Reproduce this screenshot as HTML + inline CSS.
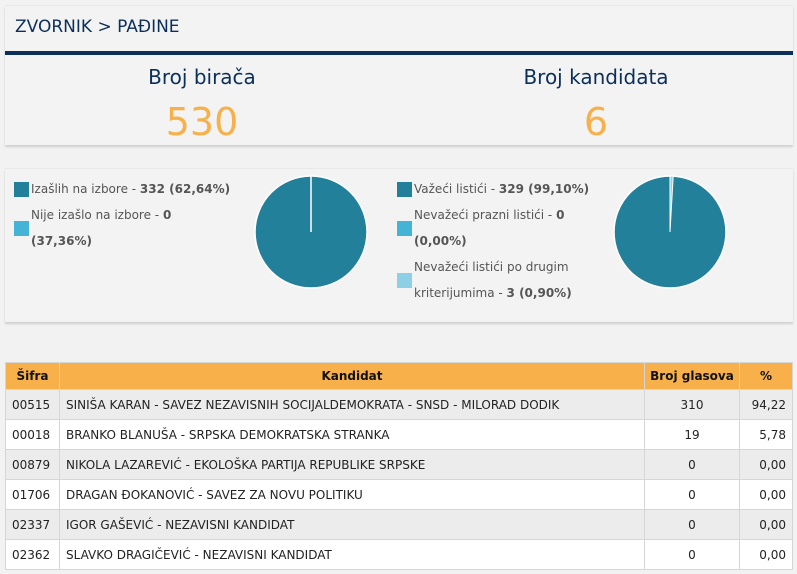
<!DOCTYPE html>
<html><head><meta charset="utf-8"><style>
*{margin:0;padding:0;box-sizing:border-box}
body{width:797px;height:574px;background:#f2f2f2;font-family:"DejaVu Sans","Liberation Sans",sans-serif;position:relative;overflow:hidden}
.abs{position:absolute}
.panel{position:absolute;background:#f3f3f3;box-shadow:0 2px 2px #cfcfcf;border-top:1px solid #e8e8e8}
.leg{position:absolute;font-size:12px;color:#555;line-height:26px}
.leg b{color:#555}
.sq{position:absolute;width:15px;height:15px}
table{position:absolute;left:5px;top:362px;width:788px;border-collapse:collapse;font-size:12px;color:#222;table-layout:fixed}
td,th{border:1px solid #d6d6d6;height:30px;padding:0 6px;white-space:nowrap}
th{background:#f7b04a;height:27px;font-weight:bold;color:#111;padding:0 2px}
tr:nth-child(even) td{background:#ececec}
tr:nth-child(odd) td{background:#fff}
</style></head><body>
<div class="panel" style="left:5px;top:5px;width:788px;height:140px">
<div class="abs" style="left:10px;top:11px;font-size:17px;color:#0b2f5b">ZVORNIK &gt; PAĐINE</div>
<div class="abs" style="left:0;top:45px;width:788px;height:4px;background:#0b2f5b"></div>
<div class="abs" style="left:0;top:59px;width:394px;text-align:center;font-size:20px;color:#0b2f5b">Broj birača</div>
<div class="abs" style="left:394px;top:59px;width:394px;text-align:center;font-size:20px;color:#0b2f5b">Broj kandidata</div>
<div class="abs" style="left:0;top:94px;width:394px;text-align:center;font-size:38px;color:#f7b04a">530</div>
<div class="abs" style="left:394px;top:94px;width:394px;text-align:center;font-size:38px;color:#f7b04a">6</div>
</div>
<div class="panel" style="left:5px;top:168px;width:788px;height:154px"></div>
<div class="sq" style="left:14px;top:182px;background:#23809b"></div>
<div class="sq" style="left:14px;top:221px;background:#45b3d6"></div>
<div class="leg" style="left:31px;top:176px;width:210px">Izašlih na izbore - <b>332 (62,64%)</b><br>Nije izašlo na izbore - <b>0</b><br><b>(37,36%)</b></div>
<div class="sq" style="left:397px;top:182px;background:#23809b"></div>
<div class="sq" style="left:397px;top:221px;background:#45b3d6"></div>
<div class="sq" style="left:397px;top:273px;background:#8dd0e6"></div>
<div class="leg" style="left:414px;top:176px;width:200px">Važeći listići - <b>329 (99,10%)</b><br>Nevažeći prazni listići - <b>0</b><br><b>(0,00%)</b><br>Nevažeći listići po drugim<br>kriterijumima - <b>3 (0,90%)</b></div>
<svg class="abs" style="left:0;top:0" width="797" height="574">
<circle cx="311" cy="232" r="56" fill="#23809b" stroke="#fff" stroke-width="1.5"/>
<line x1="311" y1="232" x2="311" y2="176" stroke="#fff" stroke-width="1.5"/>
<circle cx="670" cy="232" r="56" fill="#23809b" stroke="#fff" stroke-width="1.5"/>
<path d="M670 232 L670 176 A56 56 0 0 1 673.2 176.1 Z" fill="#8dd0e6" stroke="#fff" stroke-width="1"/>
</svg>
<table>
<colgroup><col style="width:54px"><col><col style="width:95px"><col style="width:53px"></colgroup>
<tr><th>Šifra</th><th>Kandidat</th><th>Broj glasova</th><th>%</th></tr>
<tr><td>00515</td><td>SINIŠA KARAN - SAVEZ NEZAVISNIH SOCIJALDEMOKRATA - SNSD - MILORAD DODIK</td><td style="text-align:center">310</td><td style="text-align:right">94,22</td></tr>
<tr><td>00018</td><td>BRANKO BLANUŠA - SRPSKA DEMOKRATSKA STRANKA</td><td style="text-align:center">19</td><td style="text-align:right">5,78</td></tr>
<tr><td>00879</td><td>NIKOLA LAZAREVIĆ - EKOLOŠKA PARTIJA REPUBLIKE SRPSKE</td><td style="text-align:center">0</td><td style="text-align:right">0,00</td></tr>
<tr><td>01706</td><td>DRAGAN ĐOKANOVIĆ - SAVEZ ZA NOVU POLITIKU</td><td style="text-align:center">0</td><td style="text-align:right">0,00</td></tr>
<tr><td>02337</td><td>IGOR GAŠEVIĆ - NEZAVISNI KANDIDAT</td><td style="text-align:center">0</td><td style="text-align:right">0,00</td></tr>
<tr><td>02362</td><td>SLAVKO DRAGIČEVIĆ - NEZAVISNI KANDIDAT</td><td style="text-align:center">0</td><td style="text-align:right">0,00</td></tr>
</table>
</body></html>
